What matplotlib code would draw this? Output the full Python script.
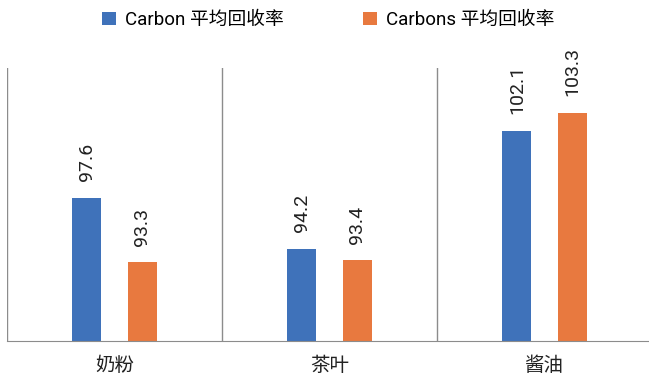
import matplotlib
matplotlib.use("Agg")
import matplotlib.pyplot as plt
import numpy as np
from matplotlib.patches import Patch

plt.rcParams['font.family'] = ['Roboto', 'Noto Sans CJK SC', 'DejaVu Sans']

# Data
categories = ['奶粉', '茶叶', '酱油']
series_names = ['Carbon 平均回收率', 'Carbons 平均回收率']
carbon = [97.6, 94.2, 102.1]
carbons = [93.3, 93.4, 103.3]
colors = ['#3F72BA', '#E8793F']

fig = plt.figure(figsize=(6.49, 3.75), dpi=100)
ax = fig.add_axes([7 / 649, 34 / 375, 645 / 649, 273 / 375])

x = np.arange(len(categories))
width = 0.135
offset = 0.128
for vals, dx, col in [(carbon, -offset, colors[0]), (carbons, offset, colors[1])]:
    bars = ax.bar(x + dx, vals, width=width, color=col, zorder=2)
    for b, v in zip(bars, vals):
        ax.text(b.get_x() + b.get_width() / 2, v + 1.1, f'{v:.1f}',
                rotation=90, ha='center', va='bottom', fontsize=14, color='#222222')

ax.set_xlim(-0.5, len(categories) - 0.5)
ax.set_ylim(88, 106.3)

# category separators
for xs in np.arange(-0.5, len(categories), 1.0):
    ax.axvline(xs, color='#8c8c8c', lw=1.0, zorder=1)

for s in ['top', 'right', 'left']:
    ax.spines[s].set_visible(False)
ax.spines['bottom'].set_color('#8c8c8c')
ax.set_yticks([])
ax.set_xticks(x)
ax.set_xticklabels(categories, fontsize=14, color='#222222')
ax.tick_params(axis='x', length=0, pad=11)

handles = [Patch(facecolor=colors[0], label=series_names[0]),
           Patch(facecolor=colors[1], label=series_names[1])]
fig.legend(handles=handles, loc='center', bbox_to_anchor=(328 / 649, 1 - 20 / 375),
           ncol=2, frameon=False, fontsize=13.5, handlelength=0.75, handleheight=0.75,
           handletextpad=0.5, columnspacing=4.2)

fig.savefig('out.png', dpi=100)
